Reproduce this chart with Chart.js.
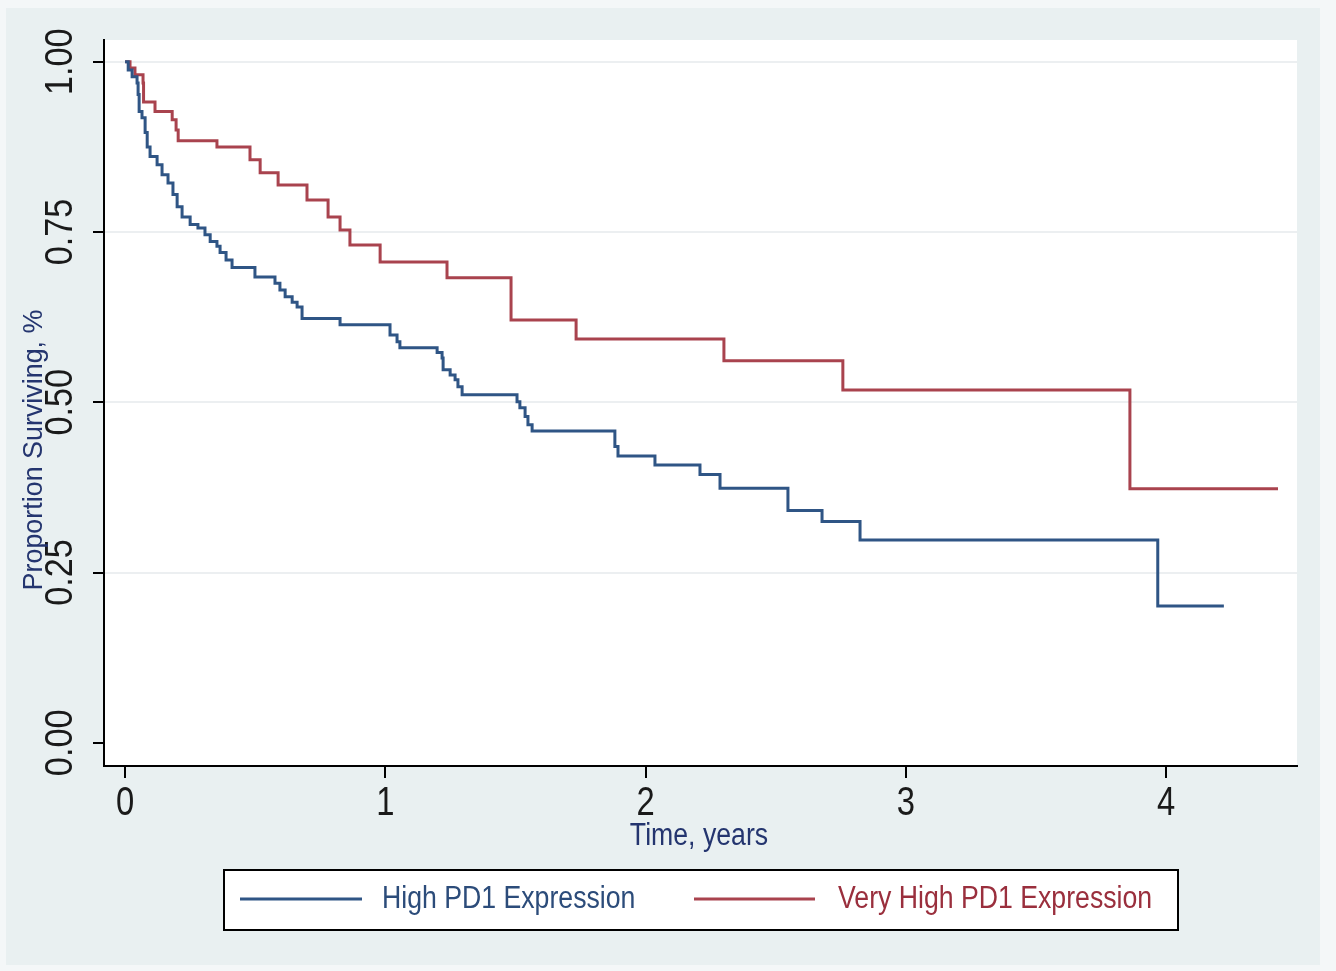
<!DOCTYPE html>
<html>
<head>
<meta charset="utf-8">
<script src="https://cdn.jsdelivr.net/npm/chart.js@4/dist/chart.umd.min.js"></script>
<style>
  html, body { margin:0; padding:0; background:#e9f0f1; }
  #wrap { width:1336px; height:971px; }
</style>
</head>
<body>
<div id="wrap"><canvas id="km" width="1336" height="971"></canvas></div>
<script>
// Kaplan-Meier steps (time in years, proportion surviving)
const highTime = [0, 0.012, 0.027, 0.046, 0.050, 0.054, 0.065, 0.077, 0.085, 0.096, 0.123, 0.142, 0.165, 0.184, 0.200, 0.219, 0.250, 0.280, 0.307, 0.327, 0.353, 0.365, 0.388, 0.411, 0.499, 0.576, 0.595, 0.615, 0.642, 0.661, 0.680, 0.826, 1.018, 1.045, 1.056, 1.199, 1.218, 1.222, 1.249, 1.268, 1.279, 1.295, 1.506, 1.517, 1.537, 1.548, 1.564, 1.882, 1.894, 2.036, 2.209, 2.286, 2.547, 2.678, 2.824, 3.968, 4.222];
const highSurv = [1.0, 0.988, 0.978, 0.969, 0.952, 0.927, 0.918, 0.896, 0.875, 0.861, 0.849, 0.834, 0.822, 0.805, 0.787, 0.772, 0.761, 0.756, 0.746, 0.736, 0.729, 0.720, 0.709, 0.698, 0.684, 0.675, 0.665, 0.655, 0.647, 0.640, 0.623, 0.614, 0.599, 0.589, 0.580, 0.573, 0.565, 0.548, 0.540, 0.533, 0.523, 0.511, 0.501, 0.492, 0.479, 0.467, 0.458, 0.435, 0.421, 0.408, 0.394, 0.374, 0.341, 0.325, 0.298, 0.201, 0.201];

const veryTime = [0, 0.019, 0.038, 0.069, 0.071, 0.115, 0.181, 0.196, 0.204, 0.353, 0.480, 0.519, 0.588, 0.699, 0.780, 0.826, 0.864, 0.980, 1.237, 1.483, 1.733, 2.301, 2.758, 3.861, 4.430];
const verySurv = [1.0, 0.991, 0.981, 0.969, 0.941, 0.927, 0.915, 0.900, 0.884, 0.875, 0.856, 0.837, 0.819, 0.797, 0.772, 0.753, 0.731, 0.706, 0.683, 0.621, 0.593, 0.561, 0.518, 0.373, 0.373];

const xTicks = [0, 1, 2, 3, 4];
const xTickLabels = ['0', '1', '2', '3', '4'];
const yTicks = [0, 0.25, 0.5, 0.75, 1];
const yTickLabels = ['0.00', '0.25', '0.50', '0.75', '1.00'];
const seriesNames = ['High PD1 Expression', 'Very High PD1 Expression'];

const BLUE = '#2f5585', RED = '#a9434e';
const NAVY = '#24356f';
const FONT = "'Liberation Sans', Arial, sans-serif";

const pts = (t, s) => t.map((x, i) => ({ x, y: s[i] }));

// text squeezed sideways to look like the condensed Stata font
function narrowText(ctx, txt, x, y, sx, rot) {
  ctx.save();
  ctx.translate(x, y);
  if (rot) ctx.rotate(rot);
  ctx.scale(sx, 1);
  ctx.fillText(txt, 0, 0);
  ctx.restore();
}

// backgrounds, tick labels, axis titles and the boxed legend
const stataFrame = {
  id: 'stataFrame',
  beforeDraw(chart) {
    const { ctx, chartArea: a } = chart;
    ctx.save();
    ctx.fillStyle = '#f4f7f8';
    ctx.fillRect(0, 0, chart.width, chart.height);
    ctx.fillStyle = '#e9f0f1';
    ctx.fillRect(6, 8, 1314, 957);
    ctx.fillStyle = '#ffffff';
    ctx.fillRect(a.left, a.top, a.right - a.left, a.bottom - a.top);
    ctx.restore();
  },
  afterDraw(chart) {
    const { ctx, scales } = chart;
    const y = scales.y, x = scales.x;
    ctx.save();
    ctx.fillStyle = '#1a1a1a';
    ctx.font = `38px ${FONT}`;
    ctx.textAlign = 'center';
    ctx.textBaseline = 'middle';
    yTicks.forEach((v, i) => narrowText(ctx, yTickLabels[i], 62, y.getPixelForValue(v), 0.9, -Math.PI / 2));
    ctx.textBaseline = 'alphabetic';
    ctx.font = `41px ${FONT}`;
    xTicks.forEach((v, i) => narrowText(ctx, xTickLabels[i], x.getPixelForValue(v), 815, 0.8));

    ctx.fillStyle = NAVY;
    ctx.textBaseline = 'middle';
    ctx.font = `28px ${FONT}`;
    narrowText(ctx, 'Proportion Surviving, %', 34, 450, 0.96, -Math.PI / 2);
    ctx.font = `31px ${FONT}`;
    narrowText(ctx, 'Time, years', 699, 836, 0.86);

    // legend box
    const lx = 224, ly = 870, lw = 954, lh = 60;
    ctx.fillStyle = '#ffffff';
    ctx.fillRect(lx, ly, lw, lh);
    ctx.strokeStyle = '#000';
    ctx.lineWidth = 2;
    ctx.strokeRect(lx, ly, lw, lh);
    const items = [[240, 362, 382, BLUE, '#2c4c7a'], [694, 815, 838, RED, '#9a2f3d']];
    ctx.font = `31px ${FONT}`;
    ctx.textAlign = 'left';
    items.forEach(([x0, x1, tx, c, tc], i) => {
      ctx.strokeStyle = c;
      ctx.lineWidth = 3;
      ctx.beginPath();
      ctx.moveTo(x0, 899);
      ctx.lineTo(x1, 899);
      ctx.stroke();
      ctx.fillStyle = tc;
      narrowText(ctx, seriesNames[i], tx, 899, 0.86);
    });
    ctx.restore();
  }
};

new Chart(document.getElementById('km'), {
  type: 'scatter',
  data: {
    datasets: [
      { label: seriesNames[0], data: pts(highTime, highSurv), showLine: true, stepped: 'before',
        borderColor: BLUE, borderWidth: 3, pointRadius: 0, fill: false },
      { label: seriesNames[1], data: pts(veryTime, verySurv), showLine: true, stepped: 'before',
        borderColor: RED, borderWidth: 3, pointRadius: 0, fill: false }
    ]
  },
  options: {
    responsive: false,
    devicePixelRatio: 1,
    animation: false,
    layout: { padding: { left: 0, top: 40, right: 39, bottom: 0 } },
    plugins: { legend: { display: false }, tooltip: { enabled: false } },
    scales: {
      x: {
        type: 'linear', min: -0.081, max: 4.503,
        afterBuildTicks: s => { s.ticks = xTicks.map(v => ({ value: v })); },
        afterFit: s => { s.height = 205; },
        grid: { drawOnChartArea: false, tickColor: '#000', tickLength: 12, lineWidth: 2 },
        border: { color: '#000', width: 2 },
        ticks: { display: false }
      },
      y: {
        type: 'linear', min: -0.034, max: 1.032,
        afterBuildTicks: s => { s.ticks = yTicks.map(v => ({ value: v })); },
        afterFit: s => { s.width = 104; },
        grid: {
          color: c => (c.tick && c.tick.value === 0) ? 'rgba(0,0,0,0)' : '#eceff1',
          tickColor: '#000', tickLength: 11, lineWidth: 2
        },
        border: { color: '#000', width: 2 },
        ticks: { display: false }
      }
    }
  },
  plugins: [stataFrame]
});
</script>
</body>
</html>
